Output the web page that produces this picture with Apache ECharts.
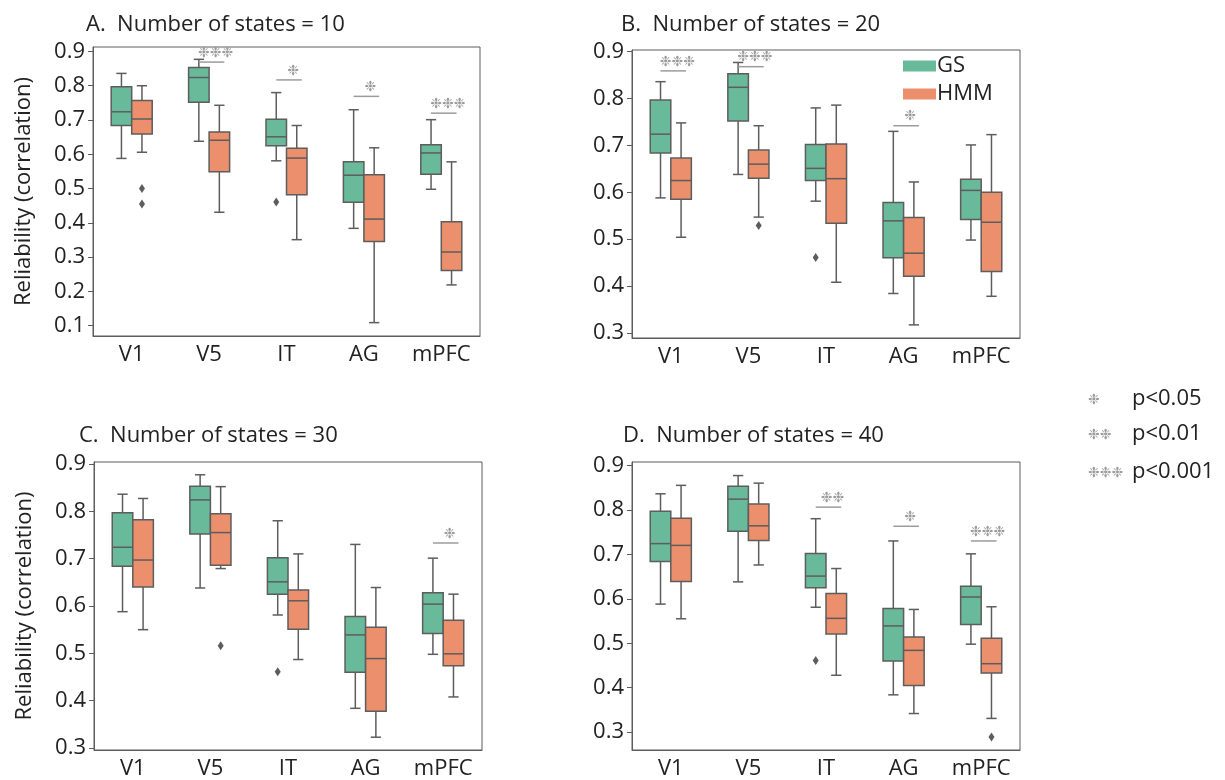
<!DOCTYPE html>
<html><head><meta charset="utf-8">
<script src="https://cdn.jsdelivr.net/npm/echarts@6/dist/echarts.min.js"></script>
<style>html,body{margin:0;padding:0;background:#fff}#c{width:1225px;height:780px}</style>
</head><body><div id="c"></div><script>
const categories = ['V1', 'V5', 'IT', 'AG', 'mPFC'];
const panelTitles = ['A.  Number of states = 10', 'B.  Number of states = 20', 'C.  Number of states = 30', 'D.  Number of states = 40'];
const yTicksA = [0.1, 0.2, 0.3, 0.4, 0.5, 0.6, 0.7, 0.8, 0.9];
const yTicksBCD = [0.3, 0.4, 0.5, 0.6, 0.7, 0.8, 0.9];

// box stats per category: [min, q1, median, q3, max]
const gsBoxes = [
  [0.588, 0.684, 0.724, 0.797, 0.836],
  [0.638, 0.752, 0.824, 0.853, 0.877],
  [0.581, 0.625, 0.651, 0.702, 0.780],
  [0.384, 0.460, 0.539, 0.578, 0.730],
  [0.498, 0.542, 0.604, 0.628, 0.701]
];
const gsOutliers = [[2, 0.461]];

const hmm10 = [
  [0.606, 0.659, 0.703, 0.757, 0.800],
  [0.431, 0.549, 0.641, 0.665, 0.743],
  [0.351, 0.482, 0.589, 0.618, 0.684],
  [0.109, 0.346, 0.411, 0.540, 0.619],
  [0.219, 0.261, 0.315, 0.403, 0.578]
];
const hmm10Outliers = [[0, 0.500], [0, 0.455]];
const hmm20 = [
  [0.504, 0.585, 0.625, 0.673, 0.748],
  [0.547, 0.630, 0.660, 0.690, 0.742],
  [0.408, 0.534, 0.629, 0.703, 0.786],
  [0.317, 0.421, 0.470, 0.546, 0.622],
  [0.378, 0.431, 0.536, 0.600, 0.723]
];
const hmm20Outliers = [[1, 0.529]];
const hmm30 = [
  [0.550, 0.640, 0.697, 0.782, 0.827],
  [0.679, 0.686, 0.755, 0.795, 0.852],
  [0.487, 0.551, 0.611, 0.634, 0.710],
  [0.323, 0.378, 0.489, 0.555, 0.639],
  [0.408, 0.474, 0.499, 0.570, 0.625]
];
const hmm30Outliers = [[1, 0.516]];
const hmm40 = [
  [0.555, 0.639, 0.720, 0.781, 0.855],
  [0.676, 0.731, 0.764, 0.813, 0.860],
  [0.428, 0.521, 0.556, 0.612, 0.668],
  [0.342, 0.405, 0.484, 0.514, 0.576],
  [0.331, 0.433, 0.454, 0.511, 0.582]
];
const hmm40Outliers = [[4, 0.289]];

// significance: [category index, bar height, number of stars]
const sig10 = [[1, 0.869, 3], [2, 0.817, 1], [3, 0.769, 1], [4, 0.720, 3]];
const sig20 = [[0, 0.859, 3], [1, 0.868, 3], [3, 0.742, 1]];
const sig30 = [[4, 0.733, 1]];
const sig40 = [[2, 0.806, 2], [3, 0.763, 1], [4, 0.730, 3]];

const sigLegendStars = [1, 2, 3];
const sigLegendText = ['p<0.05', 'p<0.01', 'p<0.001'];

const GS_COLOR = '#69b99b';
const HMM_COLOR = '#eb8f6d';
const LINE = '#5d5d5d';
const STAR_COLOR = '#9c9c9c';
const FONT = '"Open Sans"';
const STAR = '\u2749';
const STAR_FONT = '14px "DejaVu Sans"';

const hmmPanels = [hmm10, hmm20, hmm30, hmm40];
const hmmOutPanels = [hmm10Outliers, hmm20Outliers, hmm30Outliers, hmm40Outliers];
const sigPanels = [sig10, sig20, sig30, sig40];

const grids = [
  {left: 93, top: 47, width: 387, height: 289},
  {left: 632, top: 50, width: 388, height: 288},
  {left: 94, top: 462, width: 388, height: 289},
  {left: 632, top: 462, width: 388, height: 289}
];
const yRanges = [[0.070, 0.913], [0.289, 0.9036], [0.296, 0.904], [0.260, 0.9075]];
const titlePos = [[81, 9], [616, 9], [74, 420], [618, 420]];

function boxW(api) { return api.size([1, 0])[0] * 0.265; }

function boxRenderer(side) {
  return function (params, api) {
    const cat = api.value(0);
    const w = boxW(api);
    const cx = api.coord([cat, 0.5])[0] + side * w / 2;
    const y = [1, 2, 3, 4, 5].map(d => api.coord([cat, api.value(d)])[1]);
    const cap = w / 2;
    const ls = {stroke: LINE, lineWidth: 1.5};
    return {type: 'group', children: [
      {type: 'line', shape: {x1: cx, y1: y[4], x2: cx, y2: y[3]}, style: ls},
      {type: 'line', shape: {x1: cx, y1: y[1], x2: cx, y2: y[0]}, style: ls},
      {type: 'line', shape: {x1: cx - cap / 2, y1: y[4], x2: cx + cap / 2, y2: y[4]}, style: ls},
      {type: 'line', shape: {x1: cx - cap / 2, y1: y[0], x2: cx + cap / 2, y2: y[0]}, style: ls},
      {type: 'rect', shape: {x: cx - w / 2, y: y[3], width: w, height: y[1] - y[3]},
        style: {fill: api.visual('color'), stroke: LINE, lineWidth: 1.5}},
      {type: 'line', shape: {x1: cx - w / 2, y1: y[2], x2: cx + w / 2, y2: y[2]}, style: ls}
    ]};
  };
}

function outlierRenderer(side) {
  return function (params, api) {
    const cat = api.value(0);
    const w = boxW(api);
    const p = api.coord([cat, api.value(1)]);
    const cx = p[0] + side * w / 2;
    return {type: 'polygon', shape: {points: [[cx, p[1] - 4.5], [cx + 3, p[1]], [cx, p[1] + 4.5], [cx - 3, p[1]]]},
      style: {fill: LINE}};
  };
}

function sigRenderer(params, api) {
  const cat = api.value(0);
  const w = boxW(api);
  const p = api.coord([cat, api.value(1)]);
  const x1 = p[0] - w / 2, x2 = p[0] + w / 2 + 5;
  const n = api.value(2);
  return {type: 'group', children: [
    {type: 'line', shape: {x1: x1, y1: p[1], x2: x2, y2: p[1]}, style: {stroke: STAR_COLOR, lineWidth: 1.5}},
    {type: 'text', x: (x1 + x2) / 2 + 4, y: p[1] - 9,
      style: {text: STAR.repeat(n), fill: STAR_COLOR, font: STAR_FONT, align: 'center', verticalAlign: 'middle'}}
  ]};
}

const option = {
  animation: false,
  backgroundColor: '#fff',
  title: panelTitles.map((t, i) => ({text: t, left: titlePos[i][0], top: titlePos[i][1],
    textStyle: {fontFamily: FONT, fontSize: 22, fontWeight: 'normal', color: '#222'}})),
  grid: grids.map(g => Object.assign({show: true, borderColor: LINE, borderWidth: 1, backgroundColor: 'transparent'}, g)),
  legend: {
    data: ['GS', 'HMM'], orient: 'vertical', left: 903, top: 55, icon: 'rect', padding: 0,
    itemWidth: 33, itemHeight: 11, itemGap: 6,
    textStyle: {fontFamily: FONT, fontSize: 22, color: '#222', padding: [0, 0, 0, -4]},
    selectedMode: false
  },
  xAxis: grids.map((g, i) => ({
    gridIndex: i, type: 'category', data: categories, boundaryGap: true,
    axisLine: {lineStyle: {color: LINE}},
    axisTick: {alignWithLabel: true, length: 5, lineStyle: {color: LINE}},
    axisLabel: {fontFamily: FONT, fontSize: 22, color: '#222', margin: 8}
  })),
  yAxis: grids.map((g, i) => {
    const ticks = i === 0 ? yTicksA : yTicksBCD;
    return {
      gridIndex: i, type: 'value', min: yRanges[i][0], max: yRanges[i][1],
      splitLine: {show: false},
      axisLine: {show: true, lineStyle: {color: LINE}},
      axisTick: {show: true, length: 5, lineStyle: {color: LINE}, customValues: ticks},
      axisLabel: {fontFamily: FONT, fontSize: 22, color: '#222', margin: 8, customValues: ticks,
        formatter: v => v.toFixed(1)},
      name: (i === 0 || i === 2) ? 'Reliability (correlation)' : '',
      nameLocation: 'middle', nameGap: 58,
      nameTextStyle: {fontFamily: FONT, fontSize: 22, color: '#222'}
    };
  }),
  series: [],
  graphic: []
};

for (let i = 0; i < 4; i++) {
  option.series.push({
    type: 'custom', name: 'GS', xAxisIndex: i, yAxisIndex: i, itemStyle: {color: GS_COLOR},
    renderItem: boxRenderer(-1), encode: {x: 0, y: [1, 2, 3, 4, 5]},
    data: gsBoxes.map((b, k) => [k].concat(b)), clip: false
  });
  option.series.push({
    type: 'custom', name: 'HMM', xAxisIndex: i, yAxisIndex: i, itemStyle: {color: HMM_COLOR},
    renderItem: boxRenderer(1), encode: {x: 0, y: [1, 2, 3, 4, 5]},
    data: hmmPanels[i].map((b, k) => [k].concat(b)), clip: false
  });
  option.series.push({
    type: 'custom', name: 'GS outliers', xAxisIndex: i, yAxisIndex: i,
    renderItem: outlierRenderer(-1), encode: {x: 0, y: 1}, data: gsOutliers
  });
  option.series.push({
    type: 'custom', name: 'HMM outliers', xAxisIndex: i, yAxisIndex: i,
    renderItem: outlierRenderer(1), encode: {x: 0, y: 1}, data: hmmOutPanels[i]
  });
  option.series.push({
    type: 'custom', name: 'sig', xAxisIndex: i, yAxisIndex: i,
    renderItem: sigRenderer, encode: {x: 0, y: 1}, data: sigPanels[i], clip: false
  });
}

sigLegendStars.forEach((n, k) => {
  const yc = [402, 437, 475][k];
  option.graphic.push({type: 'text', left: 1088, top: yc - 9,
    style: {text: STAR.repeat(n), fill: STAR_COLOR, font: STAR_FONT}});
  option.graphic.push({type: 'text', left: 1132, top: yc - 14,
    style: {text: sigLegendText[k], fill: '#222', font: '22px ' + FONT}});
});

const chart = echarts.init(document.getElementById('c'));
chart.setOption(option);
</script></body></html>
